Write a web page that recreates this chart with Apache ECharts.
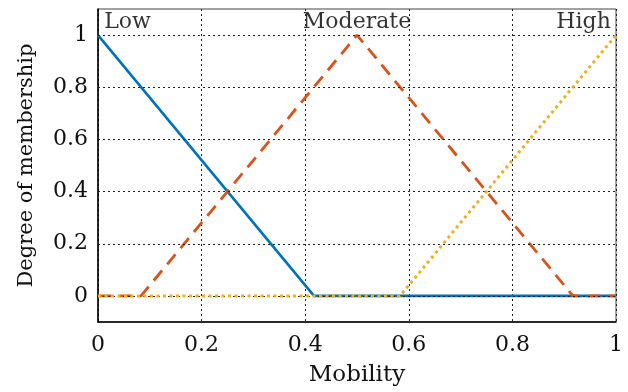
<!DOCTYPE html>
<html>
<head>
<meta charset="utf-8">
<script src="https://cdn.jsdelivr.net/npm/echarts@6/dist/echarts.min.js"></script>
<style>html,body{margin:0;padding:0;background:#fff}#c{width:628px;height:392px}</style>
</head>
<body>
<div id="c"></div>
<script>
const lowX = [0, 0.417, 1];
const lowY = [1, 0, 0];
const modX = [0, 0.083, 0.5, 0.917, 1];
const modY = [0, 0, 1, 0, 0];
const highX = [0, 0.583, 1];
const highY = [0, 0, 1];
const setNames = ['Low', 'Moderate', 'High'];
const setLabelX = [0.012, 0.5, 0.99];
const setLabelY = [1.05, 1.05, 1.05];
const setLabelAlign = ['left', 'center', 'right'];
const yGridValues = [0, 0.2, 0.4, 0.6, 0.8, 1];
const xTitle = 'Mobility';
const yTitle = 'Degree of membership';

const FONT = 'DejaVu Serif';
const pair = (xs, ys) => xs.map((x, i) => [x, ys[i]]);

const chart = echarts.init(document.getElementById('c'), null, {renderer: 'canvas'});
chart.setOption({
  animation: false,
  backgroundColor: '#fff',
  grid: {left: 98, right: 12, top: 9, bottom: 67, show: true, borderColor: '#444', borderWidth: 1},
  xAxis: {
    type: 'value', min: 0, max: 1, interval: 0.2,
    name: xTitle, nameLocation: 'middle', nameGap: 42,
    nameTextStyle: {fontFamily: FONT, fontSize: 23, color: '#111'},
    axisLine: {show: true, onZero: false, lineStyle: {color: '#000', width: 1.5}},
    axisTick: {show: false},
    axisLabel: {fontFamily: FONT, fontSize: 22, color: '#111', margin: 12,
      formatter: v => (Math.round(v * 10) / 10).toString()},
    splitLine: {show: true, lineStyle: {color: '#222', type: [2, 3], width: 1}}
  },
  yAxis: {
    type: 'value', min: -0.1, max: 1.1, interval: 0.1,
    name: yTitle, nameLocation: 'middle', nameGap: 61,
    nameTextStyle: {fontFamily: FONT, fontSize: 21, color: '#111'},
    axisLine: {show: true, onZero: false, lineStyle: {color: '#000', width: 1.5}},
    axisTick: {show: false},
    axisLabel: {fontFamily: FONT, fontSize: 22, color: '#111', margin: 10,
      formatter: v => {
        const k = Math.round(v * 10);
        if (k < 0 || k > 10 || k % 2 !== 0) return '';
        return (k / 10).toString();
      }},
    splitLine: {show: false}
  },
  series: [
    {
      name: 'gridH', type: 'line', data: [], z: 1, silent: true,
      markLine: {
        silent: true, symbol: 'none', label: {show: false},
        lineStyle: {color: '#222', type: [2, 3], width: 1},
        data: yGridValues.map(v => ({yAxis: v}))
      }
    },
    {
      name: 'Low', type: 'line', data: pair(lowX, lowY), showSymbol: false, z: 3,
      lineStyle: {color: '#0072BD', width: 2.6}
    },
    {
      name: 'Moderate', type: 'line', data: pair(modX, modY), showSymbol: false, z: 4,
      lineStyle: {color: '#D95319', width: 2.8, type: [13, 8]}
    },
    {
      name: 'High', type: 'line', data: pair(highX, highY), showSymbol: false, z: 5,
      lineStyle: {color: '#EDB120', width: 3, type: [3, 3.5]}
    },
    {
      name: 'labels', type: 'scatter', symbolSize: 0, z: 6, silent: true,
      data: setNames.map((n, i) => ({
        value: [setLabelX[i], setLabelY[i]], name: n,
        label: {show: true, position: 'inside', formatter: '{b}', align: setLabelAlign[i],
          verticalAlign: 'middle', fontFamily: FONT, fontSize: 22, color: '#000'}
      }))
    }
  ]
});
</script>
</body>
</html>
